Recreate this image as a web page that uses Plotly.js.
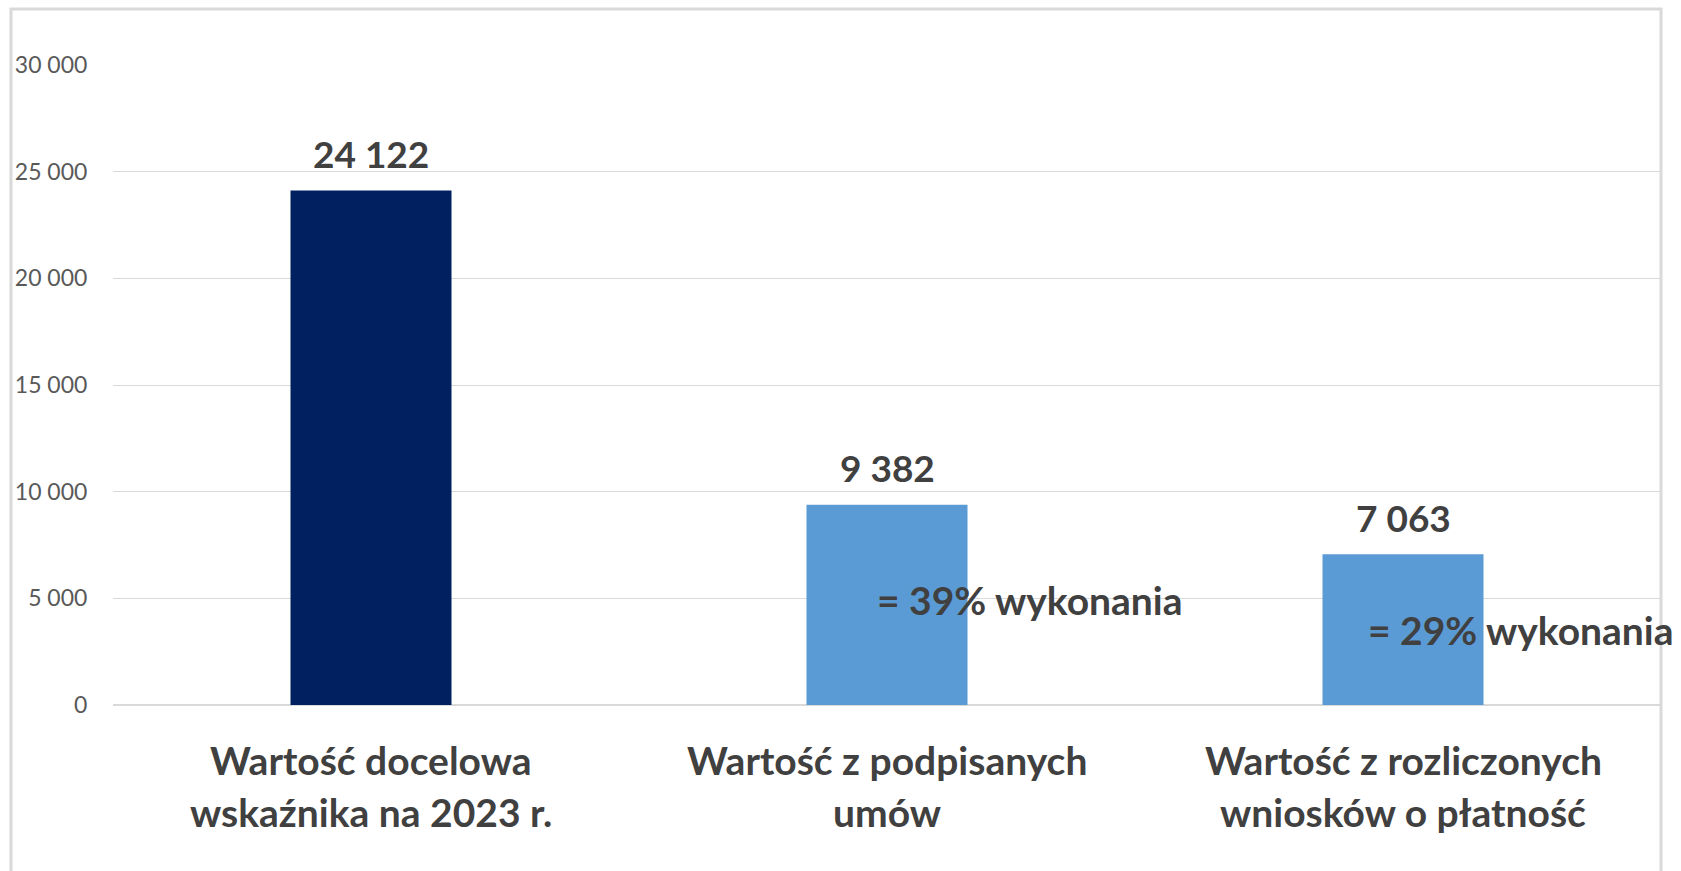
<!DOCTYPE html>
<html>
<head>
<meta charset="utf-8">
<script src="https://cdn.plot.ly/plotly-3.0.1.min.js"></script>
<style>html,body{margin:0;padding:0;background:#fff;}#chart{width:1681px;height:871px;}</style>
</head>
<body>
<div id="chart"></div>
<script>
const categories = ["Wartość docelowa\nwskaźnika na 2023 r.", "Wartość z podpisanych\numów", "Wartość z rozliczonych\nwniosków o płatność"];
const values = [24122, 9382, 7063];
const valueLabels = ["24 122", "9 382", "7 063"];
const percentLabels = ["", "= 39% wykonania", "= 29% wykonania"];
const percentY = [0, 4920, 3515];
const percentShift = [0, -12, -37];
const barColors = ["#002060", "#5B9BD5", "#5B9BD5"];
const yTicks = [0, 5000, 10000, 15000, 20000, 25000, 30000];

const FONT = "Lato, 'Open Sans', sans-serif";
const TXT = "#404040";
const catKeys = categories.map(c => c.replace("\n", " "));

const annotations = [];
catKeys.forEach((k, i) => {
  annotations.push({
    x: k, y: values[i], xref: "x", yref: "y",
    text: "<b>" + valueLabels[i] + "</b>", showarrow: false,
    yanchor: "middle", yshift: 37,
    font: {family: FONT, size: 37, color: TXT}
  });
  const lines = categories[i].split("\n");
  lines.forEach((ln, j) => {
    annotations.push({
      x: k, y: 0, xref: "x", yref: "y",
      text: "<b>" + ln + "</b>", showarrow: false,
      yanchor: "middle", yshift: -(55 + j * 52),
      font: {family: FONT, size: 39, color: TXT}
    });
  });
  if (percentLabels[i]) {
    annotations.push({
      x: k, y: percentY[i], xref: "x", yref: "y",
      text: "<b>" + percentLabels[i] + "</b>", showarrow: false,
      xanchor: "left", yanchor: "middle", xshift: percentShift[i],
      font: {family: FONT, size: 39, color: TXT}
    });
  }
});

const trace = {
  type: "bar",
  x: catKeys,
  y: values,
  marker: {color: barColors},
  hoverinfo: "skip"
};

const layout = {
  width: 1681, height: 871,
  margin: {l: 113, r: 20, t: 65, b: 166},
  paper_bgcolor: "#ffffff", plot_bgcolor: "#ffffff",
  separators: ", ",
  bargap: 0.688,
  showlegend: false,
  font: {family: FONT, color: TXT},
  xaxis: {
    type: "category", range: [-0.5, categories.length - 0.5], autorange: false,
    showticklabels: false, showgrid: false,
    showline: false, zeroline: false, ticks: "", fixedrange: true
  },
  yaxis: {
    range: [0, 30000], autorange: false, tickvals: yTicks, tickformat: ",d",
    showgrid: true, gridcolor: "#d9d9d9", gridwidth: 1,
    zeroline: true, zerolinecolor: "#d9d9d9", zerolinewidth: 2,
    showline: false, ticks: "outside", ticklen: 20, tickcolor: "rgba(0,0,0,0)",
    tickfont: {family: FONT, size: 23, color: "#595959"}, fixedrange: true
  },
  shapes: [{
    type: "rect", xref: "paper", yref: "paper",
    x0: -0.0659, x1: 1.0, y0: -0.28, y1: 1.0875,
    line: {color: "#d9d9d9", width: 3}, fillcolor: "rgba(0,0,0,0)", layer: "below"
  }],
  annotations: annotations
};

Plotly.newPlot("chart", [trace], layout, {staticPlot: true, displayModeBar: false});
</script>
</body>
</html>
